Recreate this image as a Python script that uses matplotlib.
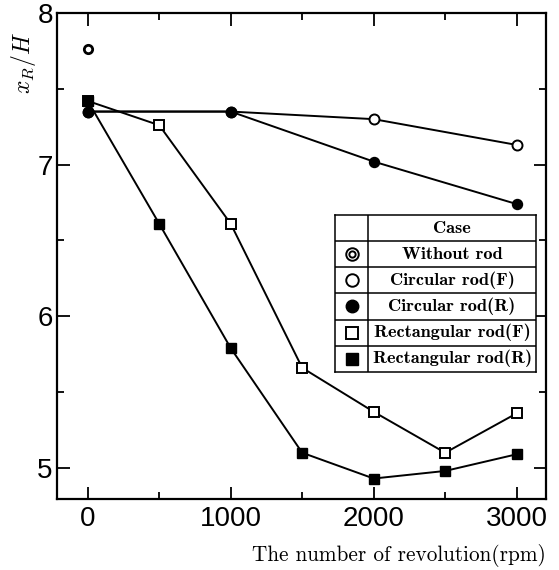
import matplotlib
matplotlib.use("Agg")
import matplotlib.pyplot as plt
from matplotlib.ticker import MultipleLocator

# Reattachment length vs. rotation speed
rpm = [0, 500, 1000, 1500, 2000, 2500, 3000]
rpm_circ = [0, 1000, 2000, 3000]

without_rod_rpm = [0]
without_rod = [7.76]

circular_f = [7.35, 7.35, 7.30, 7.13]
circular_r = [7.35, 7.35, 7.02, 6.74]
rect_f = [7.42, 7.26, 6.61, 5.66, 5.37, 5.10, 5.36]
rect_r = [7.42, 6.61, 5.79, 5.10, 4.93, 4.98, 5.09]

legend_labels = ["Without rod", "Circular rod(F)", "Circular rod(R)",
                 "Rectangular rod(F)", "Rectangular rod(R)"]

plt.rcParams["mathtext.fontset"] = "cm"
plt.rcParams["axes.unicode_minus"] = False

fig = plt.figure(figsize=(5.59, 5.70), dpi=100)
ax = fig.add_axes([57 / 559, 1 - 499 / 570, (546 - 57) / 559, (499 - 13) / 570])

lw = 1.4
ms = 7.2
ax.plot(rpm_circ, circular_f, color="black", lw=lw, marker="o", ms=ms,
        mfc="white", mec="black", mew=1.4, zorder=3)
ax.plot(rpm_circ, circular_r, color="black", lw=lw, marker="o", ms=ms,
        mfc="black", mec="black", zorder=4)
ax.plot(rpm, rect_f, color="black", lw=lw, marker="s", ms=ms * 0.95,
        mfc="white", mec="black", mew=1.4, zorder=3)
ax.plot(rpm, rect_r, color="black", lw=lw, marker="s", ms=ms * 0.95,
        mfc="black", mec="black", zorder=5)
ax.plot(without_rod_rpm, without_rod, ls="none", marker="o", ms=6,
        mfc="white", mec="black", mew=2.0, zorder=3)

ax.set_xlim(-215, 3205)
ax.set_ylim(4.795, 8.0)
ax.xaxis.set_major_locator(MultipleLocator(1000))
ax.xaxis.set_minor_locator(MultipleLocator(500))
ax.yaxis.set_major_locator(MultipleLocator(1))
ax.yaxis.set_minor_locator(MultipleLocator(0.5))
ax.tick_params(which="both", direction="in", top=True, right=True, width=1.3)
ax.tick_params(which="major", length=9)
ax.tick_params(which="minor", length=5)
ax.tick_params(axis="x", which="major", pad=5)
ax.tick_params(axis="y", which="major", pad=3)
for lab in ax.get_xticklabels() + ax.get_yticklabels():
    lab.set_fontfamily("Liberation Sans")
    lab.set_fontsize(20)
for sp in ax.spines.values():
    sp.set_linewidth(1.6)

ax.set_xlabel("The number of revolution(rpm)", fontfamily="cmr10",
              fontsize=15.3, loc="right", labelpad=9)
fig.text(24 / 559, 1 - 63 / 570, r"$x_R/H$", rotation=90, fontsize=17,
         ha="center", va="center")

# Case table drawn in the upper-right part of the plot
tab = ax.inset_axes([0.569, 0.262, 0.411, 0.322])
tab.set_xlim(0, 1)
tab.set_ylim(0, 6)
tab.set_xticks([])
tab.set_yticks([])
tab.patch.set_facecolor("white")
for sp in tab.spines.values():
    sp.set_linewidth(1.1)
divider = 0.163
tab.axvline(divider, color="black", lw=1.1)
for k in range(1, 6):
    tab.axhline(k, color="black", lw=1.1)
text_x = 0.5815
tab.text(text_x, 5.5, "Case", ha="center", va="center",
         fontfamily="cmb10", fontsize=13.2)
sym_x = divider / 2
symbols = [
    dict(marker="o", ms=9, mfc="white", mec="black", mew=1.4),
    dict(marker="o", ms=9, mfc="white", mec="black", mew=1.4),
    dict(marker="o", ms=9, mfc="black", mec="black"),
    dict(marker="s", ms=9, mfc="white", mec="black", mew=1.4),
    dict(marker="s", ms=9, mfc="black", mec="black"),
]
for i, (label, sym) in enumerate(zip(legend_labels, symbols)):
    yc = 4.5 - i
    tab.plot([sym_x], [yc], ls="none", **sym)
    if i == 0:
        tab.plot([sym_x], [yc], ls="none", marker="o", ms=4.5,
                 mfc="white", mec="black", mew=1.4)
    tab.text(text_x, yc, label, ha="center", va="center",
             fontfamily="cmb10", fontsize=13.2)

fig.savefig("out.png", dpi=100)
